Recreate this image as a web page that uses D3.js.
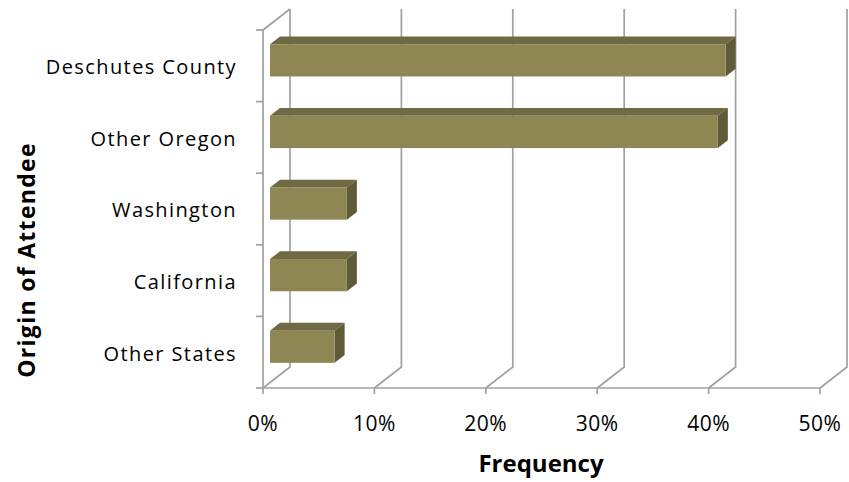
<!DOCTYPE html>
<html>
  <head>
    <meta charset="utf-8">
    <title></title>
    <script src="https://d3js.org/d3.v7.min.js"></script>
  </head>
  <style>
    body { margin: 0; background: #fff; }
    text { font-family: 'Open Sans', sans-serif; fill: #000; }
    .axis_title { font-weight: bold; }
  </style>
  <body>
    <div id="chart"></div>
    <script>

    // data (share of attendees, %)
    var origins = ['Deschutes County', 'Other Oregon', 'Washington', 'California', 'Other States'];
    var frequency = [40.9, 40.2, 6.9, 6.9, 5.8];
    var xTicks = [0, 10, 20, 30, 40, 50];

    var width = 849, height = 482;
    // front plane of the 3d box
    var plotLeft = 263, plotRight = 820, plotTop = 30, plotBottom = 388;
    // depth offset of the back wall
    var depthX = 27, depthY = -21;
    // bar sits between these fractions of the depth
    var zFront = 0.26, zBack = 0.63;

    var xScale = d3.scaleLinear().domain([0, 50]).range([plotLeft, plotRight]);
    var yScale = d3.scaleBand().domain(origins).range([plotTop, plotBottom]);

    var svg = d3.select('#chart').append('svg')
      .attr('width', width)
      .attr('height', height);

    function px(v, z) { return xScale(v) + z * depthX; }
    function py(y, z) { return y + z * depthY; }

    var grid = svg.append('g')
      .style('stroke', '#a0a0a0')
      .style('stroke-width', 1.7)
      .style('fill', 'none');

    // back gridlines + floor diagonals
    xTicks.forEach(function(t) {
      grid.append('path')
        .attr('d', 'M' + px(t, 0) + ',' + plotBottom +
          'L' + px(t, 1) + ',' + py(plotBottom, 1) +
          'L' + px(t, 1) + ',' + py(plotTop, 1));
      // tick below floor
      grid.append('line')
        .attr('x1', px(t, 0)).attr('x2', px(t, 0))
        .attr('y1', plotBottom).attr('y2', plotBottom + 6);
    });

    // floor front edge
    grid.append('line')
      .attr('x1', plotLeft).attr('x2', plotRight)
      .attr('y1', plotBottom).attr('y2', plotBottom);

    // left wall front edge
    grid.append('path')
      .attr('d', 'M' + plotLeft + ',' + plotBottom + 'L' + plotLeft + ',' + plotTop +
        'L' + px(0, 1) + ',' + py(plotTop, 1));

    // category ticks
    var edges = origins.map(function(o) { return yScale(o); }).concat([plotBottom]);
    edges.forEach(function(e) {
      grid.append('line')
        .attr('x1', plotLeft - 7).attr('x2', plotLeft)
        .attr('y1', e).attr('y2', e);
    });

    // bars as boxes
    var barH = yScale.bandwidth() * 0.45;
    var bars = svg.append('g').selectAll('g')
      .data(frequency)
      .enter().append('g');

    bars.each(function(d, i) {
      var g = d3.select(this);
      var cy = yScale(origins[i]) + yScale.bandwidth() / 2;
      var y0 = py(cy - barH / 2, zFront), y1 = py(cy + barH / 2, zFront);
      var x0 = px(0, zFront), x1 = px(d, zFront);
      var dx = (zBack - zFront) * depthX, dy = (zBack - zFront) * depthY;

      // top face
      g.append('path')
        .attr('d', 'M' + x0 + ',' + y0 + 'L' + (x0 + dx) + ',' + (y0 + dy) +
          'L' + (x1 + dx) + ',' + (y0 + dy) + 'L' + x1 + ',' + y0 + 'Z')
        .attr('fill', '#6f6a44');
      // side face
      g.append('path')
        .attr('d', 'M' + x1 + ',' + y0 + 'L' + (x1 + dx) + ',' + (y0 + dy) +
          'L' + (x1 + dx) + ',' + (y1 + dy) + 'L' + x1 + ',' + y1 + 'Z')
        .attr('fill', '#5f5a37');
      // front face
      g.append('rect')
        .attr('x', x0).attr('y', y0)
        .attr('width', x1 - x0).attr('height', y1 - y0)
        .attr('fill', '#8f8753');
    });

    // category labels
    svg.append('g').selectAll('text')
      .data(origins)
      .enter().append('text')
      .attr('x', 237)
      .attr('y', function(d) { return yScale(d) + yScale.bandwidth() / 2 + 3; })
      .attr('text-anchor', 'end')
      .attr('dominant-baseline', 'middle')
      .style('font-size', '20px')
      .style('letter-spacing', '1.4px')
      .text(function(d) { return d; });

    // percent labels
    svg.append('g').selectAll('text')
      .data(xTicks)
      .enter().append('text')
      .attr('x', function(d) { return xScale(d); })
      .attr('y', 431)
      .attr('text-anchor', 'middle')
      .style('font-size', '21px')
      .style('letter-spacing', '0.5px')
      .text(function(d) { return d + '%'; });

    svg.append('text')
      .attr('class', 'axis_title')
      .attr('x', 541)
      .attr('y', 472)
      .attr('text-anchor', 'middle')
      .style('font-size', '24px')
      .text('Frequency');

    svg.append('text')
      .attr('class', 'axis_title')
      .attr('transform', 'translate(35,260) rotate(-90)')
      .attr('text-anchor', 'middle')
      .style('font-size', '23px')
      .style('letter-spacing', '1.3px')
      .text('Origin of Attendee');

    </script>
  </body>
</html>
